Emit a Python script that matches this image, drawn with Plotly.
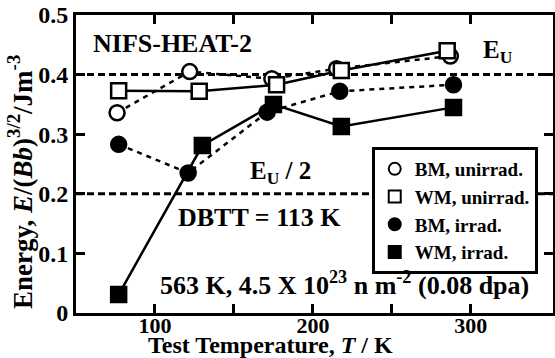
import plotly.graph_objects as go

temps_bm_un = [76, 122, 174, 215, 287]
bm_unirrad = [0.336, 0.405, 0.393, 0.410, 0.431]
temps_wm_un = [77, 128, 177, 218, 285]
wm_unirrad = [0.373, 0.372, 0.383, 0.407, 0.440]
temps_bm_ir = [77, 121, 171, 217, 289]
bm_irrad = [0.283, 0.235, 0.337, 0.372, 0.383]
temps_wm_ir = [77, 130, 175, 218, 289]
wm_irrad = [0.031, 0.281, 0.350, 0.313, 0.345]

x_ticks = [100, 150, 200, 250, 300]
x_ticktext = ["100", "", "200", "", "300"]
y_ticks = [0, 0.1, 0.2, 0.3, 0.4, 0.5]
y_ticktext = ["0", "0.1", "0.2", "0.3", "0.4", "0.5"]

series = [
    ("BM, unirrad.", temps_bm_un, bm_unirrad, "circle", "white", "dash"),
    ("WM, unirrad.", temps_wm_un, wm_unirrad, "square", "white", "solid"),
    ("BM, irrad.", temps_bm_ir, bm_irrad, "circle", "black", "dash"),
    ("WM, irrad.", temps_wm_ir, wm_irrad, "square", "black", "solid"),
]

FONT = "Liberation Serif"
fig = go.Figure()

for yv in (0.4, 0.2):
    fig.add_trace(go.Scatter(x=[50, 352], y=[yv, yv], mode="lines", showlegend=False,
                             line=dict(color="black", width=3, dash="7px,4px"), hoverinfo="skip"))

for name, xs, ys, sym, fill, dash in series:
    fig.add_trace(go.Scatter(x=xs, y=ys, mode="lines", showlegend=False,
                             line=dict(color="black", width=2.5,
                                       dash="5px,5px" if dash == "dash" else "solid")))
for name, xs, ys, sym, fill, dash in series:
    fig.add_trace(go.Scatter(x=xs, y=ys, mode="markers", name="<b>" + name + "</b>",
                             marker=dict(symbol=sym, size=15, color=fill,
                                         line=dict(color="black", width=2.5))))

fig.update_layout(
    width=555, height=358,
    margin=dict(l=76, r=2, t=15, b=45, autoexpand=False),
    paper_bgcolor="white", plot_bgcolor="white",
    font=dict(family=FONT, size=22, color="black"),
    showlegend=True,
    legend=dict(x=0.62, y=0.557, xanchor="left", yanchor="top",
                bgcolor="white", bordercolor="black", borderwidth=3,
                font=dict(family=FONT, size=19, color="black"),
                tracegroupgap=0, itemsizing="constant"),
)
fig.update_xaxes(range=[50, 352], tickvals=x_ticks,
                 ticktext=["<b>" + t + "</b>" if t else "" for t in x_ticktext],
                 ticks="inside", ticklen=9, automargin=False, ticklabelstandoff=-9,
                 tickwidth=3, tickcolor="black", showline=True, linewidth=3, linecolor="black",
                 mirror="ticks", showgrid=False, zeroline=False,
                 tickfont=dict(family=FONT, size=22))
fig.update_yaxes(range=[0, 0.5], tickvals=y_ticks,
                 ticktext=["<b>" + t + "</b>" for t in y_ticktext],
                 ticks="inside", ticklen=9, automargin=False,
                 tickwidth=3, tickcolor="black", showline=True, linewidth=3, linecolor="black",
                 mirror="ticks", showgrid=False, zeroline=False,
                 tickfont=dict(family=FONT, size=24))

ann = dict(xref="paper", yref="paper", showarrow=False, xanchor="left", yanchor="middle",
           font=dict(family=FONT, size=25, color="black"))
fig.add_annotation(x=0.032, y=0.903, text="<b>NIFS-HEAT-2</b>",
                   xref="paper", yref="paper", showarrow=False, xanchor="left", yanchor="middle",
                   font=dict(family=FONT, size=26, color="black"))
fig.add_annotation(x=0.85, y=0.876, text="<b>E<sub>U</sub></b>", **ann)
fig.add_annotation(x=0.36, y=0.47, text="<b>E<sub>U</sub> / 2</b>", **ann)
fig.add_annotation(x=0.21, y=0.322, text="<b>DBTT = 113 K</b>",
                   xref="paper", yref="paper", showarrow=False, xanchor="left", yanchor="middle",
                   font=dict(family=FONT, size=26, color="black"))
fig.add_annotation(x=0.172, y=0.10,
                   text="<b>563 K, 4.5 X 10<sup>23</sup> n m<sup>-2</sup> (0.08 dpa)</b>",
                   xref="paper", yref="paper", showarrow=False, xanchor="left", yanchor="middle",
                   font=dict(family=FONT, size=26, color="black"))
fig.add_annotation(xref="paper", yref="paper", x=-0.117, y=0.44, textangle=-90, showarrow=False,
                   xanchor="center", yanchor="middle",
                   text="<b>Energy, <i>E</i>/(<i>Bb</i>)<sup>3/2</sup>/Jm<sup>-3</sup></b>",
                   font=dict(family=FONT, size=27, color="black"))
fig.add_annotation(xref="paper", yref="paper", x=0.408, y=-0.107, showarrow=False,
                   xanchor="center", yanchor="middle",
                   text="<b>Test Temperature, <i>T</i> / K</b>",
                   font=dict(family=FONT, size=24, color="black"))

fig.write_html("out.html", config={"displayModeBar": False},
               post_script="document.body.style.margin='0';document.body.style.padding='0';")
